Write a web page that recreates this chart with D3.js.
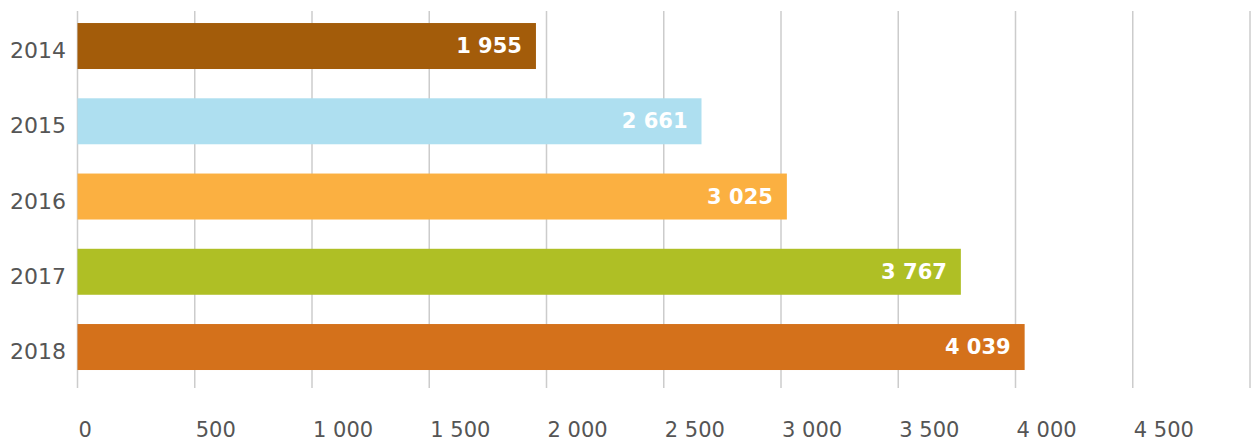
<!DOCTYPE html>
<html><head><meta charset="utf-8">
<script src="https://cdn.jsdelivr.net/npm/d3@7"></script>
<style>body{margin:0;background:#fff}svg{display:block}</style>
</head><body>
<svg id="c" width="1253" height="444"></svg>
<script>
const years = ["2014","2015","2016","2017","2018"];
const values = [1955, 2661, 3025, 3767, 4039];
const colors = ["#a35c0a","#aedff0","#fbb041","#afbf25","#d4711b"];
const ticks = [0,500,1000,1500,2000,2500,3000,3500,4000,4500,5000];

const fmt = d3.formatLocale({decimal:",",thousands:"\u2009",grouping:[3],currency:["",""]}).format(",d");
const fmtS = v => fmt(v).replace("\u2009"," ");

const svg = d3.select("#c");
const x = d3.scaleLinear().domain([0,5000]).range([77.5,1250]);
const y = d3.scaleBand().domain(years).range([8.4,384.65]).paddingInner(0.389).paddingOuter(0.1945);

// gridlines
svg.append("g").selectAll("line").data(ticks).join("line")
  .attr("x1",d=>x(d)).attr("x2",d=>x(d)).attr("y1",11).attr("y2",388)
  .attr("stroke","#cccccc").attr("stroke-width",1.5);

// bars
svg.append("g").selectAll("rect").data(years).join("rect")
  .attr("x",x(0)).attr("y",d=>y(d)).attr("height",y.bandwidth())
  .attr("width",(d,i)=>x(values[i])-x(0)).attr("fill",(d,i)=>colors[i]);

// value labels
svg.append("g").selectAll("text").data(years).join("text")
  .attr("x",(d,i)=>x(values[i])-14).attr("y",d=>y(d)+y.bandwidth()/2+7)
  .attr("text-anchor","end").attr("fill","#fff")
  .style("font-family","'DejaVu Sans',sans-serif").style("font-weight","bold").style("font-size","21px")
  .text((d,i)=>fmtS(values[i]));

// y labels
svg.append("g").selectAll("text").data(years).join("text")
  .attr("x",66).attr("y",d=>y(d)+y.bandwidth()/2+12)
  .attr("text-anchor","end").attr("fill","#555")
  .style("font-family","'DejaVu Sans',sans-serif").style("font-size","22px")
  .text(d=>d);

// x tick labels
svg.append("g").selectAll("text").data(ticks.slice(0,-1)).join("text")
  .attr("x",d=>x(d)+1).attr("y",437)
  .attr("text-anchor","start").attr("fill","#555")
  .style("font-family","'DejaVu Sans',sans-serif").style("font-size","21px")
  .text(d=>fmtS(d));
</script>
</body></html>
